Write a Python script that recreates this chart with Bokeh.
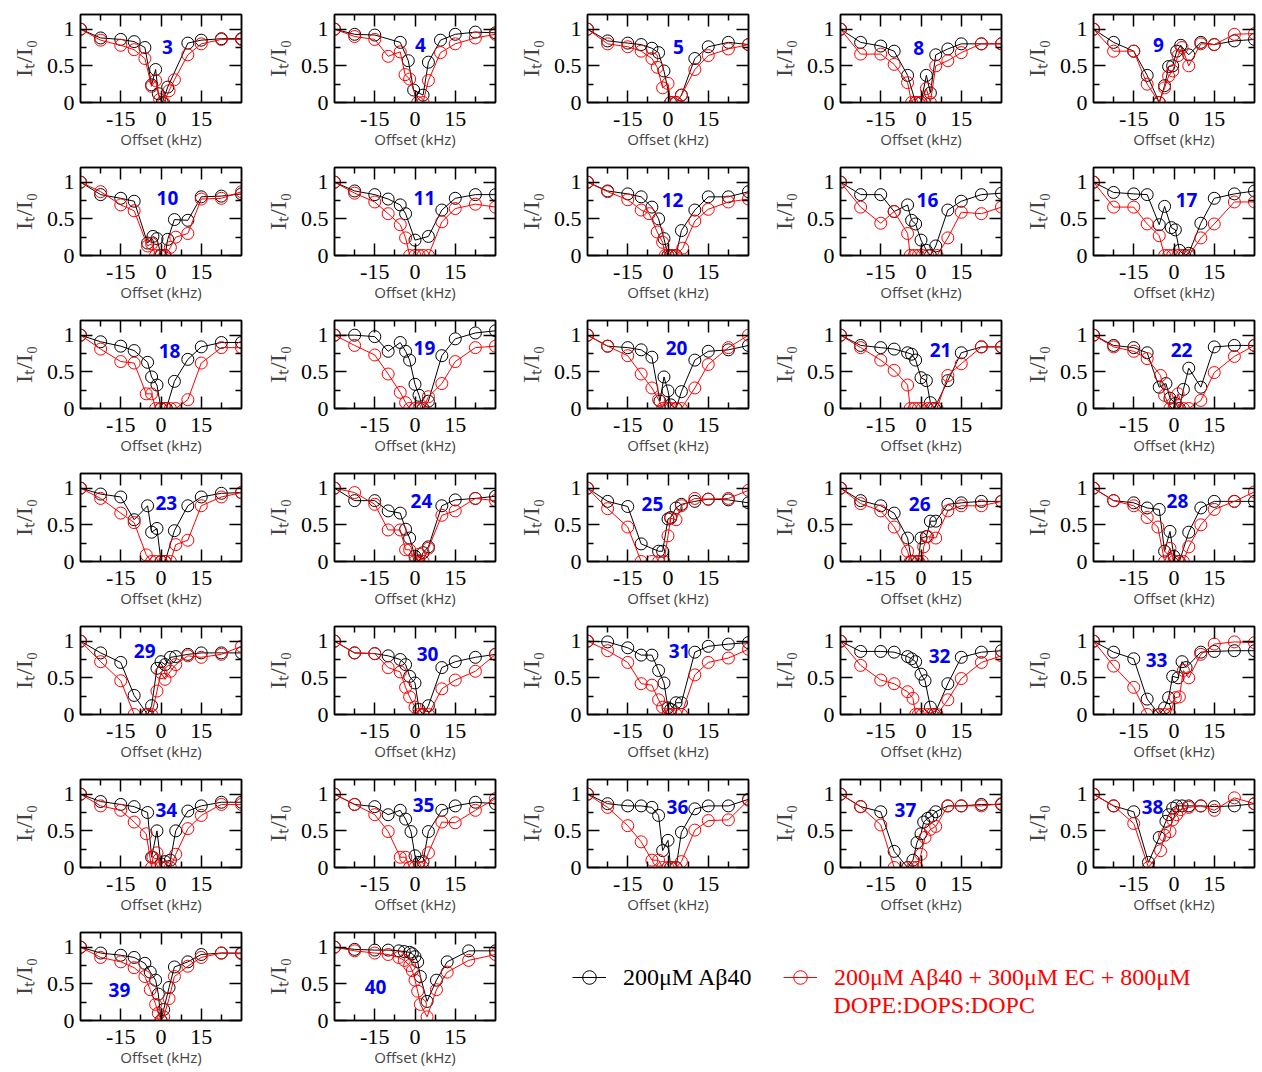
from bokeh.plotting import figure
from bokeh.models import FixedTicker, LinearAxis, Label, Legend, LegendItem, Range1d
from bokeh.layouts import row, column
from bokeh.embed import file_html
from bokeh.resources import INLINE

# ---------------- data (offset kHz, I_t/I_0) ----------------
b3_x = [-30,-22.5,-15,-10,-6,-3.5,-2,-1,0.5,2.5,10,15,22.5,30]
b3_y = [1.0,0.88,0.86,0.83,0.75,0.24,0.45,0.12,0.0,0.21,0.81,0.85,0.87,0.87]
r3_x = [-30,-22.5,-15,-10,-6,-3.5,-2,-0.5,1,3,5,10,15,22.5,30]
r3_y = [1.0,0.85,0.78,0.72,0.6,0.22,0.3,0.04,0.0,0.16,0.31,0.65,0.8,0.86,0.86]

b4_x = [-30,-22.5,-15,-5.5,-2.5,-0.5,3,5,9.5,15,22.5,30]
b4_y = [1.0,0.93,0.92,0.82,0.57,0.17,0.1,0.55,0.85,0.93,0.96,0.95]
r4_x = [-30,-22.5,-15,-10,-5.5,-3.7,-2,1,3,5,9.5,15,22.5,30]
r4_y = [1.0,0.9,0.86,0.63,0.69,0.38,0.32,0.0,0.0,0.3,0.68,0.8,0.88,0.93]

b5_x = [-30,-22.5,-15,-10,-6,-3.5,-1.5,1,3,5,10,15,22.5,30]
b5_y = [1.0,0.84,0.81,0.79,0.74,0.68,0.43,0.0,0.0,0.1,0.6,0.76,0.82,0.79]
r5_x = [-30,-22.5,-15,-10,-6,-4,-2,0,1,3,5,10,15,22.5,30]
r5_y = [1.0,0.8,0.76,0.7,0.6,0.48,0.2,0.26,0.0,0.0,0.1,0.45,0.64,0.73,0.79]

b8_x = [-30,-22.5,-15,-10,-5,-2,0,2,3.5,5.5,10,15,22.5,30]
b8_y = [1.0,0.82,0.77,0.7,0.37,0.0,0.0,0.37,0.13,0.65,0.73,0.8,0.8,0.8]
r8_x = [-30,-22.5,-15,-10,-5,-3.5,-2,-1,0,2,3.5,5.5,10,15,22.5,30]
r8_y = [1.0,0.66,0.66,0.52,0.27,0.0,0.0,0.0,0.0,0.19,0.0,0.5,0.57,0.68,0.8,0.8]

b9_x = [-30,-22.5,-15,-10,-5.5,-3.5,-2,-0.5,1,2.5,5.5,10,15,22.5,30]
b9_y = [1.0,0.82,0.7,0.37,0.0,0.23,0.49,0.5,0.7,0.78,0.65,0.82,0.79,0.84,0.86]
r9_x = [-30,-22.5,-15,-10,-5.5,-3.5,-2,-0.5,1.5,3,5.5,10,15,22.5,30]
r9_y = [1.0,0.7,0.7,0.25,0.0,0.2,0.36,0.43,0.64,0.75,0.5,0.8,0.79,0.93,0.94]

b10_x = [-30,-22.5,-15,-10,-5,-3,-1.5,0,1.5,2.5,5,10,15,22.5,30]
b10_y = [1.0,0.83,0.78,0.74,0.17,0.26,0.23,0.0,0.0,0.22,0.49,0.48,0.8,0.81,0.84]
r10_x = [-30,-22.5,-15,-10,-5,-3.5,-2,-0.5,1.5,3.5,5.5,10,15,22.5,30]
r10_y = [1.0,0.87,0.69,0.61,0.13,0.16,0.0,0.0,0.0,0.11,0.25,0.3,0.77,0.78,0.87]

b11_x = [-30,-22.5,-15,-10,-5.5,-3.5,0,5,10,15,22.5,30]
b11_y = [1.0,0.88,0.83,0.77,0.69,0.57,0.21,0.26,0.62,0.78,0.83,0.83]
r11_x = [-30,-22.5,-15,-10,-5.5,-3.5,-2,0,1.5,3,5,10,15,22.5,30]
r11_y = [1.0,0.85,0.73,0.57,0.42,0.24,0.0,0.0,0.0,0.0,0.0,0.46,0.64,0.7,0.66]

b12_x = [-30,-22.5,-15,-10,-6,-3.5,-1.5,0,1,3,5,10,15,22.5,30]
b12_y = [1.0,0.88,0.84,0.8,0.66,0.5,0.23,0.0,0.0,0.0,0.34,0.62,0.8,0.8,0.87]
r12_x = [-30,-22.5,-15,-10,-7,-4,-2,-1,0,1.5,3,5.5,10,15,22.5,30]
r12_y = [1.0,0.87,0.76,0.62,0.57,0.32,0.18,0.0,0.0,0.0,0.0,0.1,0.47,0.63,0.73,0.77]

b16_x = [-30,-22.5,-15,-10,-5,-3.5,-2,0,2,3.5,5.5,10,15,22.5,30]
b16_y = [1.0,0.83,0.83,0.6,0.69,0.48,0.43,0.21,0.07,0.0,0.13,0.62,0.74,0.83,0.85]
r16_x = [-30,-22.5,-15,-10,-5,-4,-2.5,-1,0.5,2.5,6,10,15,22.5,30]
r16_y = [1.0,0.66,0.44,0.6,0.3,0.0,0.0,0.0,0.0,0.0,0.0,0.24,0.59,0.57,0.66]

b17_x = [-30,-22.5,-15,-10,-5.5,-3.5,-1,0.5,2,4,5.5,10,15,22.5,30]
b17_y = [1.0,0.86,0.84,0.83,0.42,0.67,0.38,0.35,0.07,0.0,0.03,0.44,0.78,0.84,0.88]
r17_x = [-30,-22.5,-15,-10,-5.5,-3.5,-2,-0.5,1.5,3,5.5,10,15,22.5,30]
r17_y = [1.0,0.66,0.66,0.43,0.27,0.0,0.0,0.0,0.0,0.0,0.0,0.24,0.43,0.73,0.73]

b18_x = [-30,-22.5,-15,-10,-5,-3.5,-1.5,0,2,5,10,15,22.5,30]
b18_y = [1.0,0.91,0.85,0.79,0.63,0.43,0.32,0.0,0.0,0.37,0.67,0.84,0.9,0.9]
r18_x = [-30,-22.5,-15,-10,-5.5,-3.5,-2,0,1.5,3.5,5.5,10,15,22.5,30]
r18_y = [1.0,0.81,0.64,0.62,0.2,0.2,0.0,0.0,0.0,0.0,0.0,0.12,0.62,0.83,0.83]

b19_x = [-30,-22.5,-15,-10,-5.5,-3.5,-2,0,1.5,3,5,10,15,22.5,30]
b19_y = [1.0,1.0,0.98,0.78,0.9,0.78,0.66,0.33,0.18,0.0,0.1,0.72,0.95,1.03,1.06]
r19_x = [-30,-22.5,-15,-10,-5.5,-3.5,-2,0,1.5,3,5,10,15,22.5,30]
r19_y = [1.0,0.86,0.73,0.47,0.22,0.08,0.0,0.0,0.0,0.0,0.16,0.34,0.64,0.83,0.85]

b20_x = [-30,-22.5,-15,-10,-6,-3,-1.5,0,1,3,5,10,15,22.5,30]
b20_y = [1.0,0.85,0.83,0.8,0.7,0.1,0.43,0.24,0.05,0.0,0.23,0.66,0.78,0.8,0.86]
r20_x = [-30,-22.5,-15,-10,-6,-3.5,-2,0,1,3,5,10,15,22.5,30]
r20_y = [1.0,0.85,0.72,0.47,0.28,0.12,0.0,0.0,0.0,0.0,0.0,0.28,0.6,0.83,1.0]

b21_x = [-30,-22.5,-15,-10,-5,-3.5,-2,0,2,3.5,5,10,15,22.5,30]
b21_y = [1.0,0.86,0.83,0.81,0.76,0.74,0.66,0.42,0.38,0.08,0.0,0.38,0.76,0.84,0.84]
r21_x = [-30,-22.5,-15,-10,-5,-4,-2.5,-1,0.5,2.5,4,6,10,15,22.5,30]
r21_y = [1.0,0.83,0.66,0.52,0.32,0.0,0.0,0.0,0.0,0.0,0.0,0.0,0.45,0.61,0.84,0.84]

b22_x = [-30,-22.5,-15,-10,-5.5,-3,-1.5,0.5,2,3.5,5.5,10,15,22.5,30]
b22_y = [1.0,0.86,0.83,0.76,0.29,0.34,0.14,0.07,0.0,0.26,0.55,0.29,0.84,0.86,0.86]
r22_x = [-30,-22.5,-15,-10,-5,-3.5,-1.5,0,1.5,3.5,5.5,10,15,22.5,30]
r22_y = [1.0,0.84,0.78,0.68,0.45,0.18,0.0,0.0,0.2,0.0,0.0,0.11,0.49,0.71,0.86]

b23_x = [-30,-22.5,-15,-10,-5,-3.5,-1.5,0,1.5,5,10,15,22.5,30]
b23_y = [1.0,0.92,0.88,0.57,0.76,0.4,0.45,0.0,0.0,0.42,0.76,0.88,0.93,0.94]
r23_x = [-30,-22.5,-15,-10,-5.5,-3.5,-2,0,1.5,3.5,5.5,10,15,22.5,30]
r23_y = [1.0,0.86,0.66,0.53,0.09,0.0,0.0,0.0,0.0,0.0,0.23,0.29,0.76,0.88,0.94]

b24_x = [-30,-22.5,-15,-10,-5.5,-3.5,-2,0,1.5,3,5,10,15,22.5,30]
b24_y = [1.0,0.83,0.83,0.69,0.66,0.44,0.32,0.07,0.0,0.12,0.2,0.76,0.84,0.86,0.89]
r24_x = [-30,-22.5,-15,-10,-5.5,-3.5,-2,0,1.5,3,5,10,15,22.5,30]
r24_y = [1.0,0.94,0.78,0.43,0.43,0.16,0.16,0.0,0.1,0.0,0.18,0.63,0.69,0.86,0.83]

b25_x = [-30,-22.5,-15,-10,-3.5,-2,0,1,3,5,10,15,22.5,30]
b25_y = [1.0,0.82,0.75,0.24,0.14,0.14,0.58,0.6,0.73,0.78,0.82,0.85,0.84,0.8]
r25_x = [-30,-22.5,-15,-10,-6,-3.5,-1.5,0,1,3,5,10,15,22.5,30]
r25_y = [1.0,0.72,0.47,0.0,0.0,0.0,0.0,0.35,0.59,0.57,0.76,0.86,0.85,0.86,0.97]

b26_x = [-30,-22.5,-15,-10,-5,-3.5,-1,0,2,3.5,5.5,10,15,22.5,30]
b26_y = [1.0,0.83,0.76,0.66,0.32,0.0,0.0,0.32,0.34,0.55,0.55,0.78,0.8,0.82,0.82]
r26_x = [-30,-22.5,-15,-10,-5,-4,-2.5,-1,0.5,1,2.5,5.5,10,15,22.5,30]
r26_y = [1.0,0.79,0.69,0.47,0.14,0.0,0.0,0.0,0.0,0.2,0.34,0.32,0.69,0.76,0.76,0.82]

b28_x = [-30,-22.5,-15,-10,-5.5,-3.5,-1.5,0,2,5.5,10,15,22.5,30]
b28_y = [1.0,0.83,0.8,0.73,0.71,0.14,0.41,0.07,0.0,0.4,0.73,0.82,0.82,0.82]
r28_x = [-30,-22.5,-15,-10,-6,-3.5,-1.5,0,1.5,3.5,5.5,10,15,22.5,30]
r28_y = [1.0,0.83,0.76,0.6,0.47,0.0,0.18,0.0,0.0,0.0,0.2,0.5,0.71,0.82,0.95]

b29_x = [-30,-22.5,-15,-10,-5,-3.5,-1.5,0,1.5,3.5,5.5,10,15,22.5,30]
b29_y = [1.0,0.84,0.71,0.26,0.0,0.12,0.63,0.72,0.68,0.78,0.79,0.82,0.84,0.84,0.84]
r29_x = [-30,-22.5,-15,-10,-5.5,-3.5,-1.5,0,1.5,3.5,5.5,10,15,22.5,30]
r29_y = [1.0,0.72,0.46,0.0,0.0,0.0,0.32,0.57,0.48,0.59,0.68,0.8,0.78,0.82,0.93]

b30_x = [-30,-22.5,-15,-10,-5.5,-3.5,-2,0,1.5,3,5,10,15,22.5,30]
b30_y = [1.0,0.84,0.83,0.8,0.75,0.68,0.52,0.43,0.07,0.0,0.12,0.64,0.72,0.78,0.82]
r30_x = [-30,-22.5,-15,-10,-5.5,-3.5,-2,0,1.5,3,5,10,15,22.5,30]
r30_y = [1.0,0.84,0.83,0.64,0.58,0.37,0.24,0.1,0.0,0.0,0.0,0.35,0.47,0.59,0.82]

b31_x = [-30,-22.5,-15,-10,-6,-3.5,-1.5,0,1,3,5,10,15,22.5,30]
b31_y = [1.0,0.99,0.91,0.81,0.81,0.6,0.43,0.09,0.07,0.16,0.16,0.85,0.93,0.96,0.98]
r31_x = [-30,-22.5,-15,-10,-6,-3.5,-2,0,1,3,5,10,15,22.5,30]
r31_y = [1.0,0.87,0.71,0.42,0.4,0.2,0.1,0.0,0.0,0.0,0.0,0.54,0.71,0.77,0.89]

b32_x = [-30,-22.5,-15,-10,-5,-3.5,-2,0,1.5,3.5,5,10,15,22.5,30]
b32_y = [1.0,0.86,0.86,0.85,0.79,0.76,0.72,0.55,0.46,0.1,0.0,0.42,0.78,0.85,0.87]
r32_x = [-30,-22.5,-15,-10,-5,-3,-2,-1,0.5,2.5,4,6,10,15,22.5,30]
r32_y = [1.0,0.67,0.47,0.42,0.31,0.22,0.0,0.0,0.0,0.0,0.0,0.0,0.2,0.49,0.71,0.8]

b33_x = [-30,-22.5,-15,-10,-5.5,-3.5,-2,-0.5,1.5,3,4.5,10,15,22.5,30]
b33_y = [1.0,0.85,0.76,0.21,0.0,0.09,0.23,0.52,0.5,0.72,0.64,0.85,0.86,0.87,0.87]
r33_x = [-30,-22.5,-15,-10,-5.5,-3.5,-1.5,0.5,2,3.5,5.5,10,15,22.5,30]
r33_y = [1.0,0.66,0.37,0.0,0.0,0.0,0.0,0.23,0.24,0.6,0.5,0.82,0.96,0.99,0.98]

b34_x = [-30,-22.5,-15,-10,-5,-3.5,-1.5,0,1.5,3.5,5.5,10,15,22.5,30]
b34_y = [1.0,0.9,0.86,0.83,0.75,0.14,0.5,0.05,0.08,0.1,0.5,0.77,0.84,0.89,0.89]
r34_x = [-30,-22.5,-15,-10,-5.5,-3.5,-3,-1.5,0,1.5,3.5,5.5,10,15,22.5,30]
r34_y = [1.0,0.84,0.78,0.62,0.46,0.0,0.14,0.2,0.0,0.0,0.0,0.18,0.53,0.71,0.86,0.86]

b35_x = [-30,-22.5,-15,-10,-5.5,-3.5,-1.5,0,1.5,3,5,10,15,22.5,30]
b35_y = [1.0,0.86,0.83,0.72,0.78,0.66,0.49,0.16,0.07,0.08,0.49,0.78,0.84,0.89,0.87]
r35_x = [-30,-22.5,-15,-10,-5.5,-3.5,-2,0,1.5,3,5,10,15,22.5,30]
r35_y = [1.0,0.86,0.72,0.49,0.14,0.14,0.0,0.0,0.0,0.0,0.2,0.62,0.61,0.78,0.94]

b36_x = [-30,-22.5,-15,-10,-6,-3.5,-2,0,1,3,5,10,15,22.5,30]
b36_y = [1.0,0.87,0.84,0.84,0.82,0.71,0.23,0.37,0.0,0.0,0.48,0.8,0.84,0.84,0.93]
r36_x = [-30,-22.5,-15,-10,-6,-3.5,-2,0,1,3,5,10,15,22.5,30]
r36_y = [1.0,0.82,0.57,0.35,0.1,0.1,0.0,0.0,0.0,0.0,0.08,0.51,0.64,0.65,0.92]

b37_x = [-30,-22.5,-15,-10,-5,-3,-1.5,0,1,2.5,4,5.5,10,15,22.5,30]
b37_y = [1.0,0.83,0.76,0.22,0.0,0.1,0.34,0.46,0.62,0.67,0.7,0.76,0.84,0.84,0.86,0.86]
r37_x = [-30,-22.5,-15,-10,-5,-3,-1.5,0,1.5,3.5,5.5,10,15,22.5,30]
r37_y = [1.0,0.83,0.58,0.0,0.0,0.0,0.0,0.18,0.41,0.52,0.56,0.84,0.84,0.84,0.87]

b38_x = [-30,-22.5,-15,-9.5,-5.5,-3,-2,-0.5,1,3,5.5,10,15,22.5,30]
b38_y = [1.0,0.84,0.76,0.07,0.41,0.63,0.72,0.81,0.84,0.84,0.84,0.84,0.83,0.84,0.87]
r38_x = [-30,-22.5,-15,-9.5,-5,-3.5,-1.5,-0.5,1,2.5,5.5,10,15,22.5,30]
r38_y = [1.0,0.84,0.6,0.0,0.23,0.44,0.49,0.65,0.72,0.79,0.82,0.84,0.78,0.95,0.87]

b39_x = [-30,-22.5,-15,-10,-6,-4,-2,-1,0,1,3,5,10,15,22.5,30]
b39_y = [1.0,0.92,0.89,0.86,0.78,0.66,0.55,0.36,0.0,0.15,0.45,0.73,0.8,0.9,0.92,0.92]
r39_x = [-30,-22.5,-15,-10,-6,-4,-2,-1,0,1,3,5,10,15,22.5,30]
r39_y = [1.0,0.86,0.8,0.72,0.6,0.42,0.22,0.1,0.0,0.05,0.3,0.6,0.74,0.86,0.92,0.91]

b40_x = [-30,-22.5,-15,-10,-6,-4,-2,-1,0,1,2,4.5,8,12,20,30]
b40_y = [1.0,0.97,0.96,0.96,0.95,0.94,0.93,0.91,0.87,0.8,0.6,0.26,0.55,0.8,0.95,0.95]
r40_x = [-30,-22.5,-15,-10,-6,-4,-2,-1,0,1,2,4.5,8,12,20,30]
r40_y = [1.0,0.95,0.92,0.9,0.86,0.82,0.75,0.68,0.55,0.4,0.22,0.05,0.42,0.66,0.82,0.9]

panel_names = ["3","4","5","8","9","10","11","12","16","17","18","19","20","21","22",
               "23","24","25","26","28","29","30","31","32","33","34","35","36","37","38","39","40"]

series = {
    "3": (b3_x, b3_y, r3_x, r3_y), "4": (b4_x, b4_y, r4_x, r4_y), "5": (b5_x, b5_y, r5_x, r5_y),
    "8": (b8_x, b8_y, r8_x, r8_y), "9": (b9_x, b9_y, r9_x, r9_y), "10": (b10_x, b10_y, r10_x, r10_y),
    "11": (b11_x, b11_y, r11_x, r11_y), "12": (b12_x, b12_y, r12_x, r12_y), "16": (b16_x, b16_y, r16_x, r16_y),
    "17": (b17_x, b17_y, r17_x, r17_y), "18": (b18_x, b18_y, r18_x, r18_y), "19": (b19_x, b19_y, r19_x, r19_y),
    "20": (b20_x, b20_y, r20_x, r20_y), "21": (b21_x, b21_y, r21_x, r21_y), "22": (b22_x, b22_y, r22_x, r22_y),
    "23": (b23_x, b23_y, r23_x, r23_y), "24": (b24_x, b24_y, r24_x, r24_y), "25": (b25_x, b25_y, r25_x, r25_y),
    "26": (b26_x, b26_y, r26_x, r26_y), "28": (b28_x, b28_y, r28_x, r28_y), "29": (b29_x, b29_y, r29_x, r29_y),
    "30": (b30_x, b30_y, r30_x, r30_y), "31": (b31_x, b31_y, r31_x, r31_y), "32": (b32_x, b32_y, r32_x, r32_y),
    "33": (b33_x, b33_y, r33_x, r33_y), "34": (b34_x, b34_y, r34_x, r34_y), "35": (b35_x, b35_y, r35_x, r35_y),
    "36": (b36_x, b36_y, r36_x, r36_y), "37": (b37_x, b37_y, r37_x, r37_y), "38": (b38_x, b38_y, r38_x, r38_y),
    "39": (b39_x, b39_y, r39_x, r39_y), "40": (b40_x, b40_y, r40_x, r40_y),
}

# panel-number label anchors (data units)
label_x = [2.4, 2.0, 3.9, -0.9, -5.8, 2.4, 3.5, 1.7, 2.4, 4.7, 3.2, 3.5, 3.2, 7.3, 2.8,
           2.0, 2.4, -5.8, -0.5, 1.3, -6.1, 4.7, 4.3, 6.9, -6.5, 2.0, 3.2, 3.5, -5.8, -8.0, -15.5, -14.7]
label_y = [0.76, 0.79, 0.76, 0.74, 0.78, 0.78, 0.79, 0.76, 0.76, 0.76, 0.78, 0.82, 0.82, 0.80, 0.80,
           0.80, 0.83, 0.79, 0.78, 0.82, 0.86, 0.83, 0.87, 0.80, 0.75, 0.79, 0.85, 0.83, 0.78, 0.83, 0.42, 0.46]

x_ticks = [-15, 0, 15]
x_tick_labels = ["-15", "0", "15"]
x_minor = [-22.5, -7.5, 7.5, 22.5]
y_ticks = [0, 0.5, 1]
y_tick_labels = ["0", "0.5", "1"]
y_minor = [0.25, 0.75]

legend_black = "200\u03bcM A\u03b240"
legend_red_1 = "200\u03bcM A\u03b240 + 300\u03bcM EC + 800\u03bcM"
legend_red_2 = "DOPE:DOPS:DOPC"

SERIF = "Liberation Serif"
SANS = "Open Sans"
RED = "#ff0000"
BLUE = "#0000ff"
NAN = float("nan")

TOP_B, FRAME_H, BOTTOM_B = 14, 88, 51


def style_axis(ax, labelled=True):
    ax.axis_line_color = "black"
    ax.axis_line_width = 1.5
    ax.major_tick_in = 12
    ax.major_tick_out = 0
    ax.minor_tick_in = 6
    ax.minor_tick_out = 0
    ax.major_tick_line_color = "black"
    ax.minor_tick_line_color = "black"
    ax.major_tick_line_width = 1.5
    ax.minor_tick_line_width = 1.5
    if labelled:
        ax.major_label_text_font = SERIF
        ax.major_label_text_font_size = "22px"
        ax.major_label_text_color = "black"
    else:
        ax.major_label_text_font_size = "1px"
        ax.major_label_text_color = None
        ax.major_label_standoff = 0


def make_panel(idx, name, left_b, right_b):
    bx, by, rx, ry = series[name]
    p = figure(frame_width=161, frame_height=FRAME_H,
               x_range=Range1d(-30, 30), y_range=Range1d(0, 1.2),
               output_backend="svg", toolbar_location=None,
               x_axis_location=None, y_axis_location=None,
               min_border_left=left_b, min_border_right=right_b,
               min_border_top=TOP_B, min_border_bottom=BOTTOM_B)
    p.xgrid.visible = False
    p.ygrid.visible = False
    p.outline_line_color = "black"
    p.outline_line_width = 1.5
    p.background_fill_color = "white"
    p.border_fill_color = "white"

    xb = LinearAxis(ticker=FixedTicker(ticks=x_ticks, minor_ticks=x_minor),
                    major_label_overrides=dict(zip(x_ticks, x_tick_labels)))
    style_axis(xb)
    xb.major_label_standoff = 9
    xb.axis_label = "Offset (kHz)"
    xb.axis_label_text_font = SANS
    xb.axis_label_text_font_size = "15px"
    xb.axis_label_text_font_style = "normal"
    xb.axis_label_standoff = 0
    p.add_layout(xb, "below")

    yl = LinearAxis(ticker=FixedTicker(ticks=y_ticks, minor_ticks=y_minor),
                    major_label_overrides=dict(zip(y_ticks, y_tick_labels)))
    style_axis(yl)
    yl.major_label_standoff = 6
    yl.axis_label = "I\u209c/I\u2080"
    yl.axis_label_text_font = SERIF
    yl.axis_label_text_font_size = "24px"
    yl.axis_label_text_font_style = "normal"
    yl.axis_label_standoff = 7
    p.add_layout(yl, "left")

    xa = LinearAxis(ticker=FixedTicker(ticks=x_ticks, minor_ticks=x_minor))
    style_axis(xa, labelled=False)
    p.add_layout(xa, "above")
    yr = LinearAxis(ticker=FixedTicker(ticks=y_ticks, minor_ticks=y_minor))
    style_axis(yr, labelled=False)
    p.add_layout(yr, "right")

    p.line(bx, by, line_color="black", line_width=1)
    p.scatter(bx, by, marker="circle", size=12, fill_color=None, line_color="black", line_width=1)
    p.line(rx, ry, line_color=RED, line_width=1)
    p.scatter(rx, ry, marker="circle", size=12, fill_color=None, line_color=RED, line_width=1)

    p.add_layout(Label(x=label_x[idx], y=label_y[idx], text=name, text_color=BLUE,
                       text_font=SANS, text_font_style="bold", text_font_size="19px",
                       text_align="center", text_baseline="middle"))
    return p


col_left = [80, 80, 80, 80, 80]
col_right = [13, 12, 12, 12, 8]

rows = []
for r in range(7):
    figs = []
    for c in range(5):
        i = r * 5 + c
        if i >= len(panel_names):
            break
        figs.append(make_panel(i, panel_names[i], col_left[c], col_right[c]))
    if r == 6:
        lg = figure(frame_width=755, frame_height=FRAME_H,
                    x_range=Range1d(0, 1), y_range=Range1d(0, 1),
                    output_backend="svg", toolbar_location=None,
                    x_axis_location=None, y_axis_location=None,
                    min_border_left=0, min_border_right=0,
                    min_border_top=TOP_B, min_border_bottom=BOTTOM_B)
        lg.outline_line_color = None
        lg.xgrid.visible = False
        lg.ygrid.visible = False
        # legend-only renderers (NaN data: nothing drawn in the frame)
        bl = lg.line(x=[NAN], y=[NAN], line_color="black", line_width=1)
        bs = lg.scatter(x=[NAN], y=[NAN], marker="circle", fill_color=None, line_color="black", line_width=1)
        rl = lg.line(x=[NAN], y=[NAN], line_color=RED, line_width=1)
        rs = lg.scatter(x=[NAN], y=[NAN], marker="circle", fill_color=None, line_color=RED, line_width=1)
        common = dict(glyph_width=34, glyph_height=40, label_height=40,
                      label_text_font=SERIF, label_text_font_size="24px",
                      label_standoff=17, border_line_color=None, background_fill_alpha=0,
                      padding=0, margin=0, spacing=0)
        leg1 = Legend(items=[LegendItem(label=legend_black, renderers=[bl, bs])],
                      location=(65, 23), label_text_color="black", **common)
        leg2 = Legend(items=[LegendItem(label=legend_red_1, renderers=[rl, rs])],
                      location=(276, 23), label_text_color=RED, **common)
        lg.add_layout(leg1)
        lg.add_layout(leg2)
        lg.add_layout(Label(x=326, y=16, x_units="screen", y_units="screen", text=legend_red_2,
                            text_color=RED, text_font=SERIF, text_font_size="24px",
                            text_align="left", text_baseline="middle"))
        figs.append(lg)
    rows.append(row(*figs))

layout = column(*rows)
open("out.html", "w").write(file_html(layout, INLINE))
